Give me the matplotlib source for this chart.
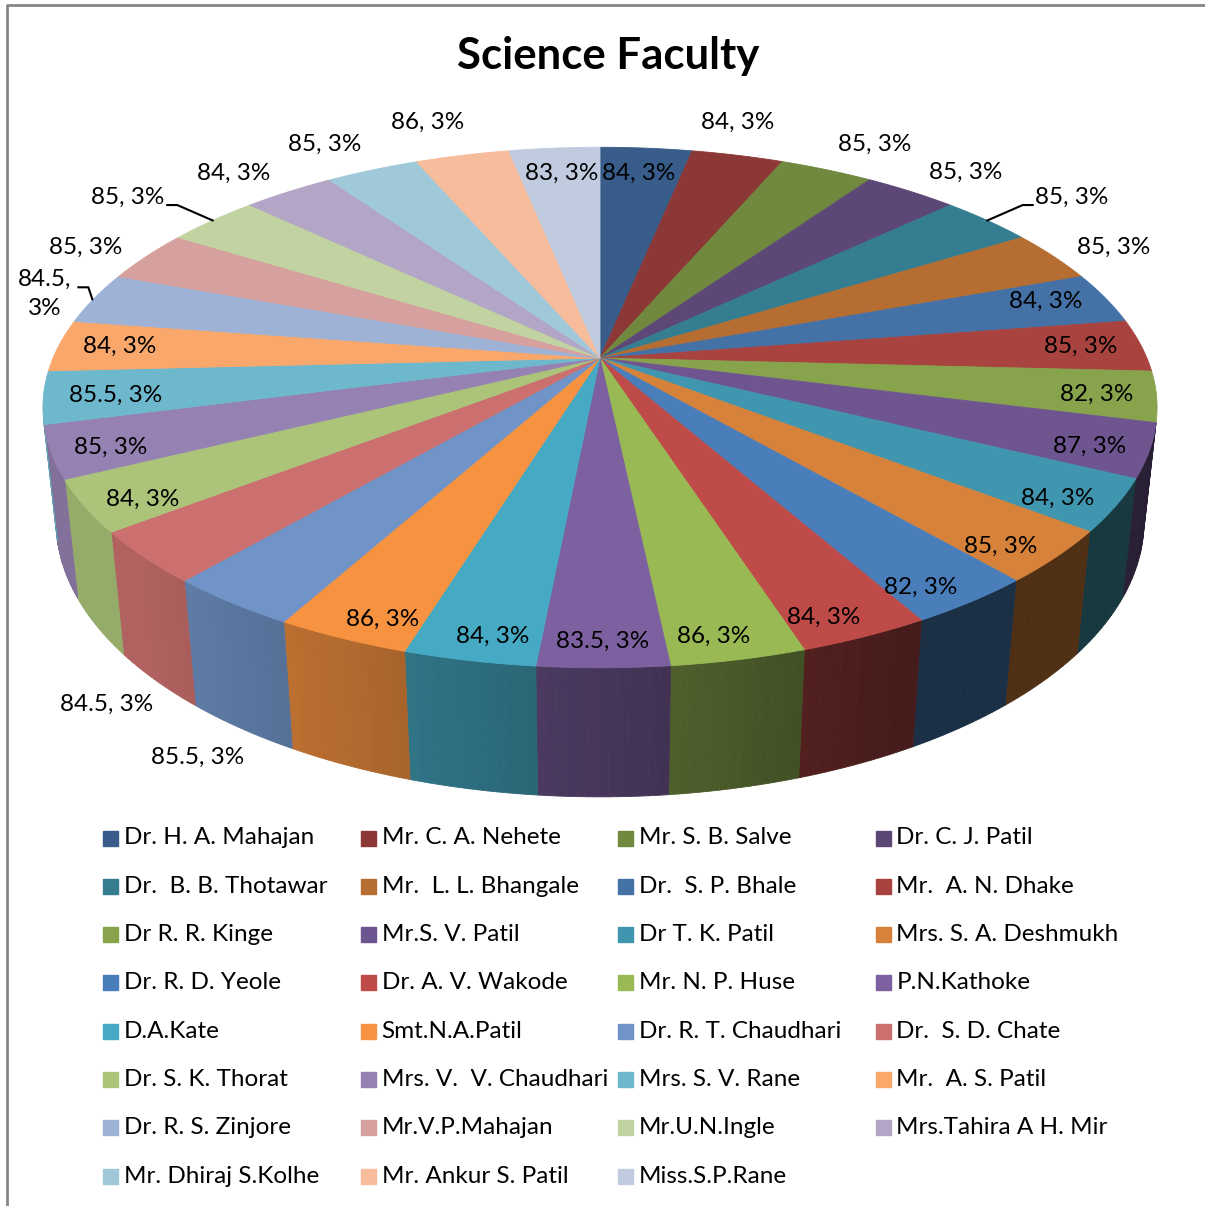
import numpy as np
import matplotlib
matplotlib.use("Agg")
import matplotlib.pyplot as plt
from matplotlib.colors import to_rgb

plt.rcParams['font.family'] = ['Lato', 'DejaVu Sans']

names = ["Dr. H. A. Mahajan", "Mr. C. A. Nehete", "Mr. S. B. Salve", "Dr. C. J. Patil",
         "Dr.  B. B. Thotawar", "Mr.  L. L. Bhangale", "Dr.  S. P. Bhale", "Mr.  A. N. Dhake",
         "Dr R. R. Kinge", "Mr.S. V. Patil", "Dr T. K. Patil", "Mrs. S. A. Deshmukh",
         "Dr. R. D. Yeole", "Dr. A. V. Wakode", "Mr. N. P. Huse", "P.N.Kathoke",
         "D.A.Kate", "Smt.N.A.Patil", "Dr. R. T. Chaudhari", "Dr.  S. D. Chate",
         "Dr. S. K. Thorat", "Mrs. V.  V. Chaudhari", "Mrs. S. V. Rane", "Mr.  A. S. Patil",
         "Dr. R. S. Zinjore", "Mr.V.P.Mahajan", "Mr.U.N.Ingle", "Mrs.Tahira A H. Mir",
         "Mr. Dhiraj S.Kolhe", "Mr. Ankur S. Patil", "Miss.S.P.Rane"]
scores = [84, 84, 85, 85, 85, 85, 84, 85, 82, 87, 84, 85, 82, 84, 86, 83.5,
          84, 86, 85.5, 84.5, 84, 85, 85.5, 84, 84.5, 85, 85, 84, 85, 86, 83]

colors = ['#385D8A', '#8C3836', '#71893F', '#5C4776', '#357D91', '#B66D31',
          '#4471A6', '#A9433F', '#87A44C', '#6F5590', '#4096AE', '#D7823A',
          '#4A7EBB', '#BE4B48', '#98B954', '#7D60A0', '#46AAC5', '#F69240',
          '#7094C7', '#CB706E', '#ABC47A', '#9581B2', '#6EB8CE', '#F9A76B',
          '#9EB2D6', '#D6A09E', '#C1D3A1', '#B3A5C6', '#9FC8D8', '#F7BC9C',
          '#C0CBE0']

# label placement modes (by slice index)
out_labels = {1, 2, 3, 5, 25, 27, 28, 29}
leader_labels = {4, 26}
wrap_labels = {24}
below_labels = {18, 19}

# perspective camera
CX, CY = 600, 358
F, DIST, ELEV = 2554, 4.67, np.radians(27.3)
DEPTH = 0.236
cE, sE = np.cos(ELEV), np.sin(ELEV)


def project(theta, r=1.0, z=0.0):
    X = r * np.sin(theta)
    Y = -r * np.cos(theta)
    w = DIST - (Y * cE + z * sE)
    return CX + F * X / w, CY - F * (z * cE - Y * sE) / w


def shade(col, x):
    k = np.clip(0.56 - 0.42 * x, 0.37, 0.87)
    return tuple(np.array(to_rgb(col)) * k)


fig = plt.figure(figsize=(12.05, 12.06), dpi=100)
ax = fig.add_axes([0, 0, 1, 1])
ax.set_xlim(0, 1205)
ax.set_ylim(1206, 0)
ax.axis('off')

# chart border
ax.plot([7, 7, 1215], [1215, 5, 5], color='#868686', lw=2, solid_capstyle='butt')

total = sum(scores)
bounds = np.concatenate([[0], np.cumsum(scores)]) / total * 2 * np.pi

# side walls
for i in range(len(scores)):
    t = np.linspace(bounds[i], bounds[i + 1], 14)
    for a, b in zip(t[:-1], t[1:]):
        m = 0.5 * (a + b)
        if -np.cos(m) * DIST * cE <= 1:
            continue
        p1, p2 = project(a), project(b)
        p3, p4 = project(b, z=-DEPTH), project(a, z=-DEPTH)
        c = shade(colors[i], np.sin(m))
        ax.fill([p1[0], p2[0], p3[0], p4[0]], [p1[1], p2[1], p3[1], p4[1]],
                color=c, ec=c, lw=0.6)

# top face
for i in range(len(scores)):
    t = np.linspace(bounds[i], bounds[i + 1], 30)
    xs, ys = project(t)
    ax.fill(np.r_[CX, xs], np.r_[CY, ys], color=colors[i], ec=colors[i], lw=0.6)

# data labels
for i, v in enumerate(scores):
    pct = round(100 * v / total)
    txt = f"{v:g}, {pct}%"
    hw = 5.9 * len(txt)
    m = 0.5 * (bounds[i] + bounds[i + 1])
    if i in below_labels:
        px, py = project(m, z=-DEPTH)
    else:
        px, py = project(m)
    dx, dy = px - CX, py - CY
    n = np.hypot(dx, dy)
    dx, dy = dx / n, dy / n
    if i in out_labels or i in below_labels:
        lx, ly = px + dx * 62, py + dy * 40
        if i == 1:
            lx -= 35
    elif i in leader_labels:
        lx, ly = px + dx * 90, py + dy * 70
        sx = np.sign(dx)
        xe = lx - sx * (hw + 4)
        ax.plot([px, xe - sx * 10, xe], [py, ly + 8, ly + 8], color='black', lw=1.5)
    elif i in wrap_labels:
        txt = f"{v:g},\n{pct}%"
        lx, ly = px + dx * 50, py + dy * 40
        ax.plot([px - 2, px - 6, px - 16], [py + 1, py - 11, py - 11], color='black', lw=1.5)
    else:
        lx, ly = px - dx * (hw + 25), py - dy * 26
        # keep the two labels either side of 12 o'clock apart
        if dy < -0.9:
            lx += 5 * np.sign(dx)
    ax.text(lx, ly, txt, ha='center', va='center', fontsize=17.5, linespacing=1.5)

ax.text(608, 56, "Science Faculty", ha='center', va='center', fontsize=31.5,
        fontweight='bold')

# legend, filled row by row
for i, name in enumerate(names):
    r, c = divmod(i, 4)
    x0 = 103 + c * 257.5
    y0 = 838 + r * 48.3
    ax.add_patch(plt.Rectangle((x0, y0 - 7.5), 15, 15, color=colors[i]))
    ax.text(x0 + 21, y0, name, ha='left', va='center', fontsize=17.5)

fig.savefig("out.png", dpi=100)
